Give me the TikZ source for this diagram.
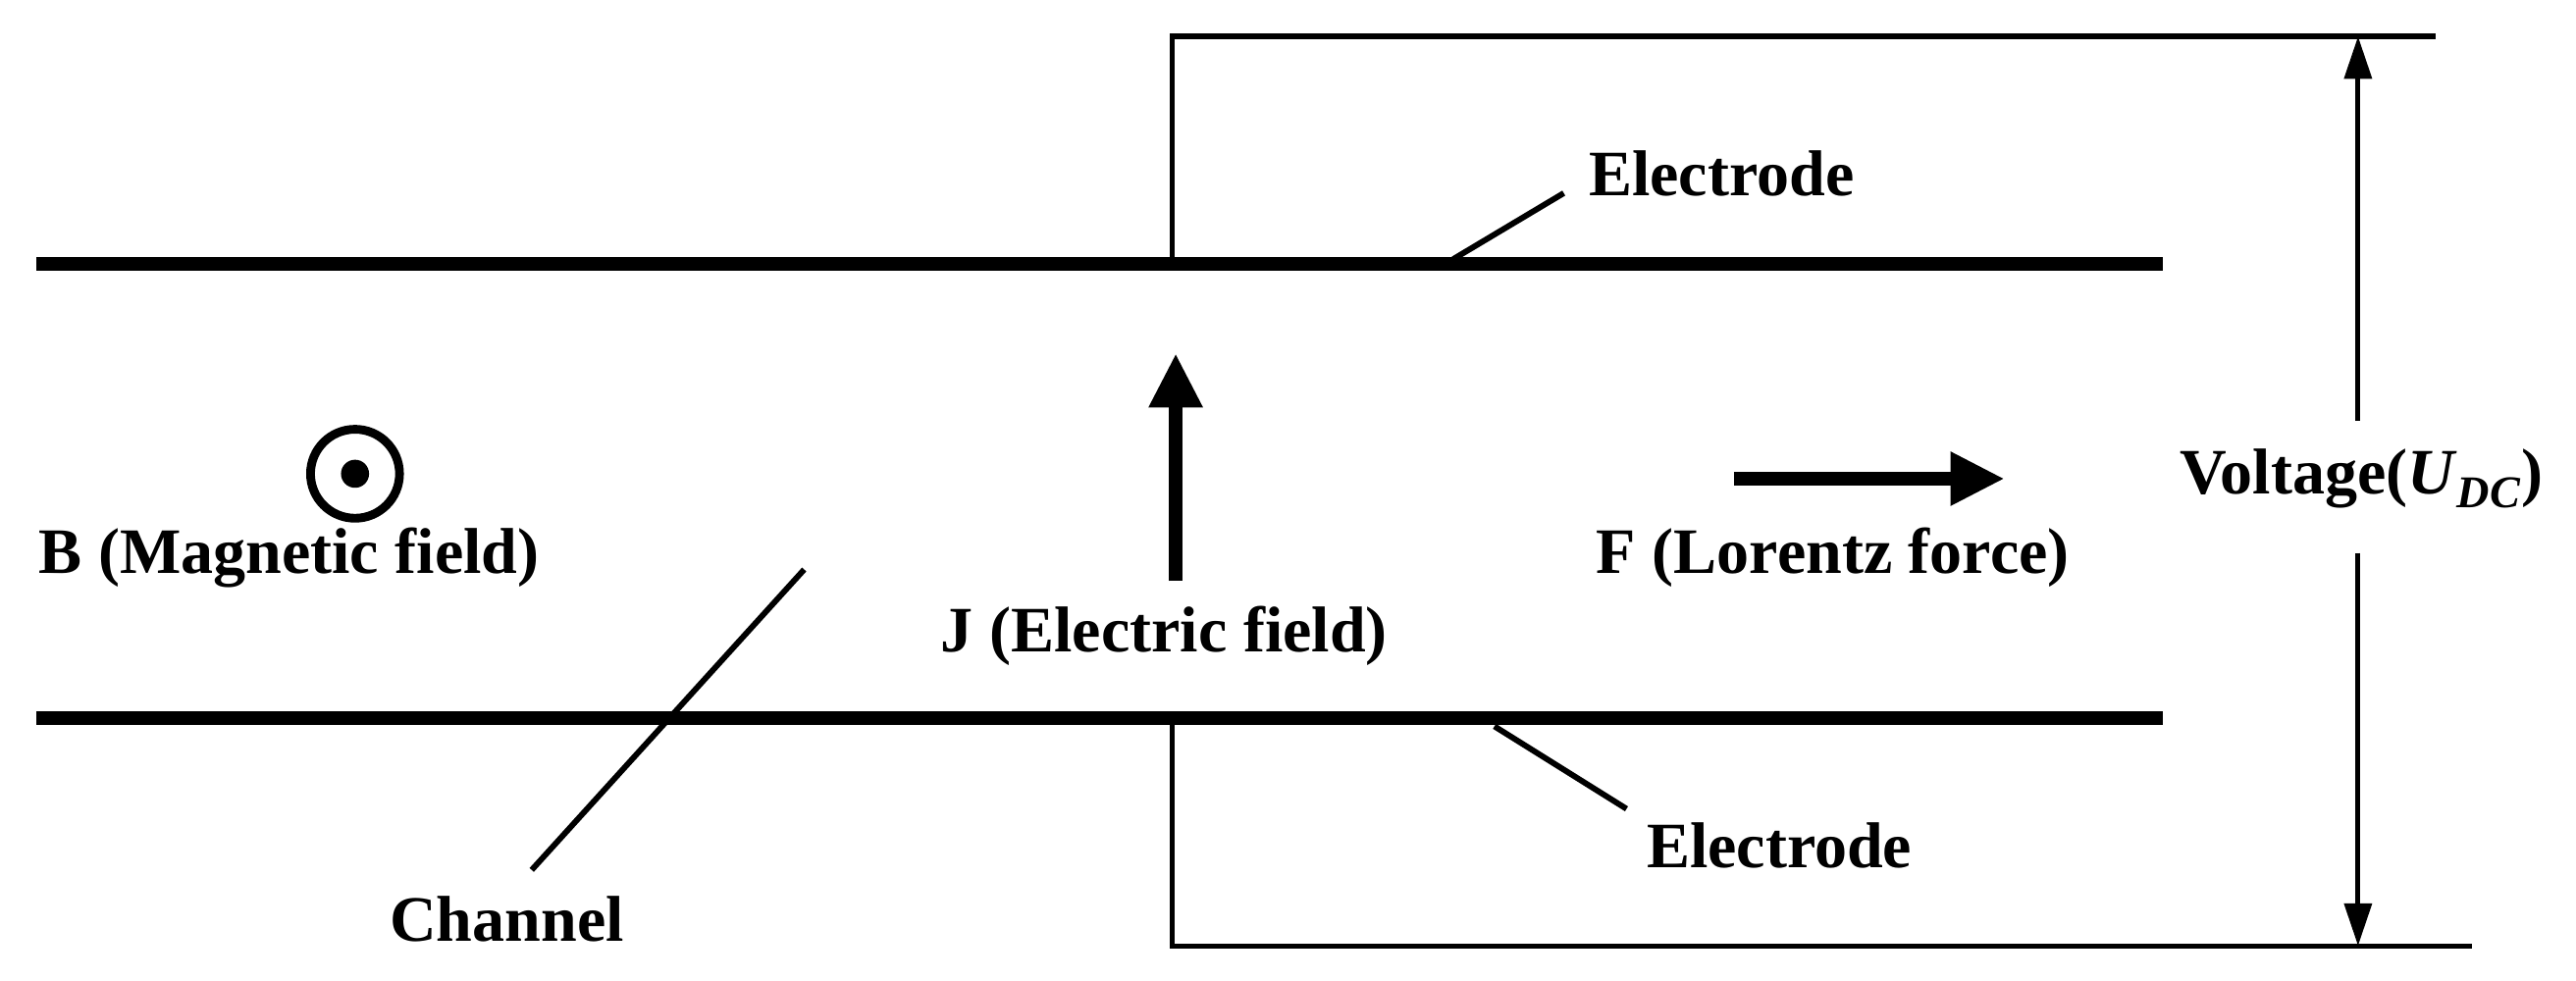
\documentclass[tikz,border=0pt]{standalone}
\usepackage{fontspec}
\setmainfont{Liberation Serif}
\usetikzlibrary{arrows.meta}
\begin{document}
\begin{tikzpicture}[x=0.03cm,y=-0.03cm,
  thickl/.style={line width=7pt},
  wire/.style={line width=2.6pt},
  lead/.style={line width=3pt},
  lbl/.style={font=\bfseries\fontsize{33.5}{38}\selectfont, inner sep=0pt},
  big/.style={-{Triangle[length=28pt,width=26pt]}, line width=7pt},
  va/.style={-{Triangle[length=22pt,width=14pt]}, line width=2.6pt}]
\useasboundingbox (0,0) rectangle (1560,594);
% channel walls
\coordinate (tl) at (22,160); \coordinate (tr) at (1310,160);
\coordinate (bl) at (22,435); \coordinate (br) at (1310,435);
\draw[thickl] (tl) -- (tr);
\draw[thickl] (bl) -- (br);
% wires
\coordinate (tw0) at (710,160); \coordinate (tw1) at (710,22); \coordinate (tw2) at (1475,22);
\coordinate (bw0) at (710,435); \coordinate (bw1) at (710,573); \coordinate (bw2) at (1497,573);
\draw[wire] (tw0) -- (tw1) -- (tw2);
\draw[wire] (bw0) -- (bw1) -- (bw2);
% voltage
\node[lbl] (v) at (1430,290) {Voltage(\textit{U}\textsubscript{\textit{DC}})};
\coordinate (vt) at (1428,22); \coordinate (vb) at (1428,573);
\coordinate (vt0) at (1428,255); \coordinate (vb0) at (1428,335);
\draw[va] (vt0) -- (vt);
\draw[va] (vb0) -- (vb);
% electrodes
\node[lbl,anchor=west] (e1) at (962,105) {Electrode};
\coordinate (e1a) at (880,157); \coordinate (e1b) at (947,117);
\draw[lead] (e1a) -- (e1b);
\node[lbl,anchor=west] (e2) at (997,512) {Electrode};
\coordinate (e2a) at (905,440); \coordinate (e2b) at (985,490);
\draw[lead] (e2a) -- (e2b);
% channel
\node[lbl] (ch) at (307,557) {Channel};
\coordinate (c1) at (322,527); \coordinate (c2) at (487,345);
\draw[lead] (c1) -- (c2);
% B
\node[circle,draw,line width=4.5pt,minimum size=46pt,inner sep=0pt] (bc) at (215,287) {};
\fill (bc.center) circle (8.5);
\node[lbl] (bl2) at (175,338) {B (Magnetic field)};
% J
\coordinate (j0) at (712,352); \coordinate (j1) at (712,214);
\draw[big] (j0) -- (j1);
\node[lbl] (jl) at (705,385) {J (Electric field)};
% F
\coordinate (f0) at (1050,290); \coordinate (f1) at (1214,290);
\draw[big] (f0) -- (f1);
\node[lbl] (fl) at (1110,338) {F (Lorentz force)};
\end{tikzpicture}
\end{document}
